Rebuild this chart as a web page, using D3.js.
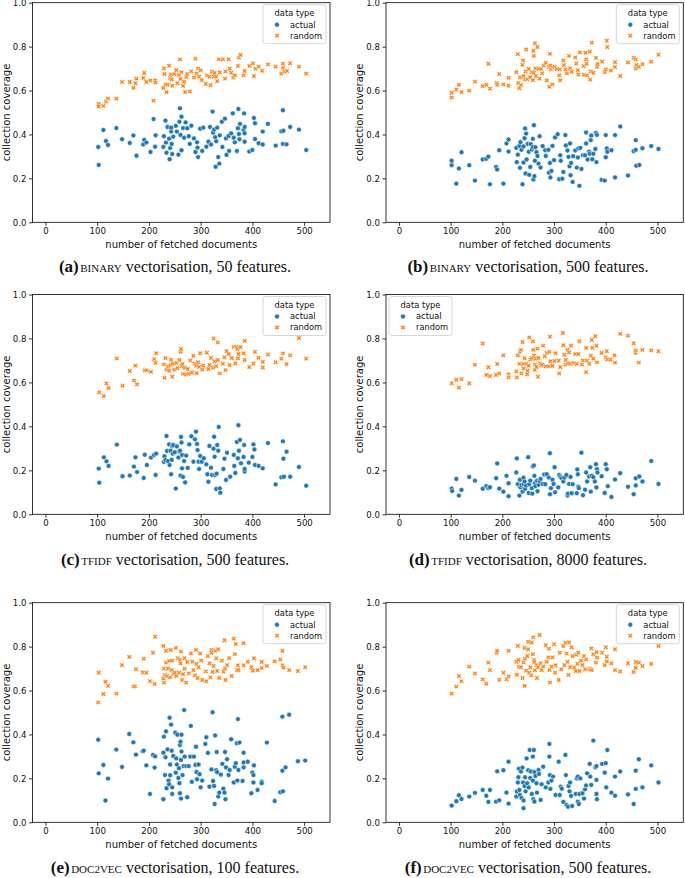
<!DOCTYPE html>
<html><head><meta charset="utf-8">
<script src="https://cdn.jsdelivr.net/npm/d3@7"></script>
<style>body{margin:0;background:#fff}svg{display:block}</style>
</head><body><svg id="c" width="685" height="878"></svg>
<script>
const xTicks=[0,100,200,300,400,500];
const yTicks=[0,0.2,0.4,0.6,0.8,1.0];
const seriesNames=["actual","random"];
const seriesColors=["#1f77b4","#ff7f0e"];
const panelLetters=["(a)","(b)","(c)","(d)","(e)","(f)"];
const panelMethods=["BINARY","BINARY","TFIDF","TFIDF","DOC2VEC","DOC2VEC"];
const panelFeatures=[50,500,500,8000,100,500];
const legendSide=["right","right","right","left","right","right"];

const binary50Actual=[[102,.343],[103,.261],[112,.42],[117,.37],[121,.352],[137,.429],[148,.378],[163,.361],[170,.395],[176,.303],[189,.354],[191,.375],[195,.363],[203,.32],[209,.47],[212,.344],[213,.396],[228,.343],[229,.392],[232,.463],[233,.363],[234,.317],[236,.434],[239,.381],[240,.287],[241,.338],[243,.413],[243,.431],[244,.357],[245,.311],[247,.39],[252,.439],[254,.413],[257,.308],[259,.458],[260,.519],[261,.398],[263,.481],[263,.328],[266,.429],[268,.385],[271,.455],[274,.428],[277,.392],[279,.357],[282,.44],[287,.382],[290,.32],[293,.364],[294,.34],[295,.297],[299,.426],[303,.325],[305,.431],[311,.344],[315,.367],[318,.434],[320,.354],[323,.504],[324,.408],[326,.422],[328,.387],[329,.253],[330,.369],[332,.431],[334,.297],[336,.267],[337,.396],[341,.458],[342,.343],[347,.472],[349,.382],[350,.307],[354,.393],[355,.325],[359,.405],[362,.496],[364,.385],[366,.364],[370,.325],[372,.428],[373,.516],[374,.402],[375,.378],[376,.448],[383,.42],[384,.496],[385,.434],[385,.405],[385,.367],[394,.322],[400,.329],[403,.475],[405,.379],[405,.451],[412,.36],[420,.413],[420,.354],[430,.448],[445,.349],[456,.414],[459,.51],[459,.357],[460,.417],[466,.355],[473,.434],[490,.422],[504,.329]];
const binary50Random=[[103,.539],[103,.527],[112,.53],[117,.549],[121,.563],[137,.563],[148,.639],[163,.639],[170,.612],[174,.633],[176,.654],[189,.657],[191,.68],[195,.639],[203,.646],[209,.554],[212,.646],[213,.636],[228,.612],[229,.701],[230,.675],[232,.628],[234,.593],[236,.627],[239,.713],[241,.657],[243,.674],[244,.651],[245,.622],[249,.675],[253,.693],[255,.633],[258,.671],[260,.742],[261,.653],[263,.684],[266,.621],[268,.64],[270,.593],[272,.662],[274,.675],[279,.596],[282,.687],[287,.659],[290,.745],[292,.678],[295,.7],[297,.663],[300,.692],[302,.648],[310,.63],[312,.669],[317,.663],[319,.625],[322,.686],[325,.663],[327,.68],[330,.663],[332,.643],[335,.742],[337,.683],[343,.742],[347,.654],[348,.687],[354,.742],[356,.7],[359,.681],[363,.659],[366,.669],[372,.712],[374,.75],[377,.762],[383,.669],[385,.689],[394,.712],[401,.724],[403,.666],[406,.7],[412,.709],[419,.69],[430,.719],[445,.709],[456,.677],[459,.722],[459,.703],[462,.686],[467,.689],[473,.724],[490,.709],[504,.677]];

const binary500Actual=[[102,.26],[102,.28],[111,.176],[116,.245],[121,.319],[136,.26],[147,.19],[162,.286],[169,.289],[173,.299],[176,.173],[188,.252],[190,.24],[194,.328],[202,.176],[208,.359],[212,.322],[212,.377],[227,.339],[228,.274],[230,.308],[233,.348],[234,.248],[235,.365],[237,.33],[239,.173],[241,.272],[241,.345],[243,.383],[244,.427],[245,.222],[246,.404],[247,.286],[249,.357],[251,.321],[252,.216],[254,.252],[255,.356],[257,.331],[259,.38],[259,.342],[260,.195],[261,.442],[262,.21],[263,.28],[264,.342],[266,.319],[268,.302],[270,.267],[272,.392],[274,.249],[278,.347],[283,.328],[284,.302],[289,.33],[290,.226],[292,.27],[293,.204],[295,.234],[297,.348],[300,.283],[302,.386],[307,.401],[310,.196],[312,.305],[313,.28],[316,.198],[318,.229],[322,.397],[323,.35],[326,.327],[328,.298],[330,.255],[331,.359],[332,.214],[333,.27],[336,.184],[337,.301],[341,.327],[344,.249],[346,.295],[347,.336],[349,.166],[351,.339],[353,.243],[356,.305],[360,.305],[362,.409],[362,.359],[365,.286],[368,.322],[369,.312],[371,.374],[372,.395],[374,.287],[376,.312],[380,.334],[381,.407],[382,.274],[383,.398],[392,.193],[398,.19],[400,.296],[400,.397],[402,.336],[403,.321],[411,.328],[418,.204],[418,.397],[428,.436],[443,.213],[454,.324],[458,.374],[458,.33],[459,.257],[465,.261],[471,.337],[488,.347],[502,.334]];
const binary500Random=[[102,.59],[102,.568],[111,.605],[116,.626],[121,.593],[136,.6],[147,.64],[162,.62],[169,.626],[173,.722],[176,.609],[189,.634],[190,.626],[194,.675],[202,.628],[212,.658],[212,.622],[227,.684],[230,.766],[231,.634],[233,.611],[234,.66],[236,.625],[239,.717],[240,.737],[241,.666],[244,.65],[245,.687],[246,.787],[248,.652],[251,.698],[254,.661],[257,.684],[259,.647],[260,.781],[261,.681],[261,.758],[263,.815],[264,.701],[265,.666],[268,.798],[270,.699],[272,.654],[275,.699],[277,.678],[280,.714],[284,.726],[286,.646],[290,.708],[291,.617],[292,.767],[293,.714],[294,.696],[297,.628],[298,.704],[301,.708],[305,.698],[310,.669],[311,.696],[312,.647],[318,.737],[319,.716],[322,.696],[325,.678],[329,.758],[331,.701],[334,.685],[341,.751],[343,.723],[346,.693],[347,.673],[350,.774],[357,.711],[358,.672],[361,.772],[362,.742],[363,.722],[364,.669],[369,.777],[370,.65],[371,.687],[373,.818],[376,.681],[381,.749],[383,.708],[384,.72],[393,.731],[398,.684],[400,.696],[402,.827],[403,.798],[410,.691],[418,.729],[418,.707],[428,.666],[443,.728],[454,.749],[458,.742],[458,.701],[459,.716],[464,.708],[471,.72],[488,.731],[502,.763]];

const tfidf500Actual=[[103,.208],[104,.144],[113,.259],[118,.241],[122,.22],[138,.317],[149,.173],[163,.176],[171,.217],[174,.259],[177,.192],[190,.165],[192,.271],[196,.224],[204,.258],[210,.27],[213,.179],[214,.276],[229,.238],[230,.264],[232,.247],[234,.356],[235,.288],[237,.242],[239,.318],[240,.224],[242,.289],[243,.182],[244,.248],[245,.311],[246,.276],[247,.315],[250,.282],[252,.117],[254,.309],[257,.258],[259,.285],[260,.289],[261,.176],[262,.352],[263,.327],[264,.27],[264,.209],[266,.17],[268,.242],[270,.145],[272,.267],[275,.211],[278,.318],[282,.355],[286,.239],[289,.341],[291,.376],[293,.32],[294,.292],[296,.239],[297,.206],[299,.265],[302,.239],[306,.255],[311,.227],[313,.182],[315,.148],[317,.311],[320,.212],[322,.179],[325,.298],[326,.353],[327,.262],[328,.179],[330,.115],[331,.185],[332,.315],[334,.289],[335,.397],[337,.118],[338,.098],[344,.206],[346,.253],[349,.156],[351,.28],[357,.171],[364,.27],[365,.22],[367,.188],[370,.329],[372,.255],[373,.405],[374,.289],[376,.338],[378,.232],[383,.261],[384,.315],[385,.194],[385,.206],[393,.235],[400,.261],[402,.318],[404,.295],[405,.224],[412,.22],[420,.209],[430,.324],[445,.136],[456,.168],[459,.332],[460,.253],[461,.171],[466,.285],[473,.171],[490,.215],[504,.13]];
const tfidf500Random=[[104,.555],[113,.538],[118,.595],[122,.574],[138,.709],[149,.585],[163,.652],[171,.609],[174,.676],[177,.591],[192,.655],[196,.655],[204,.648],[210,.706],[213,.689],[214,.733],[229,.682],[230,.621],[232,.711],[234,.658],[237,.673],[239,.653],[242,.679],[243,.703],[245,.626],[246,.685],[249,.658],[253,.688],[255,.665],[259,.702],[261,.739],[262,.752],[263,.674],[265,.683],[266,.639],[269,.667],[272,.636],[275,.661],[277,.639],[280,.7],[283,.645],[286,.721],[288,.685],[291,.676],[292,.642],[295,.692],[297,.671],[299,.733],[303,.658],[305,.677],[312,.735],[315,.661],[317,.679],[320,.711],[324,.667],[325,.8],[327,.695],[330,.674],[333,.782],[333,.702],[337,.641],[343,.685],[346,.714],[348,.656],[350,.742],[354,.729],[356,.679],[360,.711],[364,.761],[367,.686],[369,.762],[371,.752],[372,.709],[373,.729],[377,.761],[383,.732],[385,.789],[385,.702],[394,.67],[402,.686],[405,.739],[412,.712],[420,.694],[420,.668],[430,.727],[445,.692],[456,.708],[459,.732],[466,.683],[473,.723],[490,.802],[504,.708]];

const tfidf8000Actual=[[102,.117],[103,.106],[111,.161],[116,.085],[121,.111],[136,.17],[147,.153],[162,.116],[169,.128],[173,.119],[176,.123],[188,.164],[190,.231],[194,.117],[202,.103],[208,.175],[212,.082],[212,.141],[227,.19],[228,.254],[230,.137],[233,.085],[234,.157],[235,.123],[237,.134],[239,.103],[241,.166],[241,.137],[243,.149],[244,.116],[246,.131],[250,.26],[251,.097],[252,.137],[254,.153],[257,.119],[258,.094],[259,.217],[261,.222],[262,.175],[263,.141],[264,.128],[267,.153],[268,.105],[270,.134],[272,.15],[274,.161],[278,.138],[281,.181],[283,.137],[286,.182],[290,.167],[292,.278],[292,.091],[294,.119],[297,.157],[299,.138],[301,.214],[302,.1],[308,.122],[310,.179],[312,.17],[315,.164],[318,.149],[320,.167],[324,.179],[326,.085],[327,.094],[329,.138],[332,.17],[334,.096],[336,.137],[344,.096],[345,.204],[346,.182],[347,.126],[348,.119],[353,.28],[356,.087],[360,.112],[362,.19],[364,.149],[368,.172],[370,.214],[371,.103],[373,.176],[376,.169],[379,.149],[381,.228],[382,.122],[383,.205],[384,.19],[392,.173],[398,.097],[400,.228],[402,.205],[404,.128],[411,.079],[418,.158],[428,.187],[443,.125],[454,.091],[458,.164],[458,.131],[465,.172],[471,.149],[488,.242],[502,.138]];
const tfidf8000Random=[[102,.596],[111,.612],[116,.576],[121,.615],[136,.596],[147,.681],[162,.777],[169,.634],[173,.669],[176,.629],[188,.634],[190,.684],[194,.641],[202,.723],[212,.637],[212,.623],[227,.65],[228,.623],[230,.723],[233,.685],[234,.739],[236,.748],[237,.641],[239,.784],[240,.684],[241,.663],[243,.71],[246,.684],[248,.637],[249,.653],[251,.676],[252,.805],[254,.704],[257,.71],[259,.787],[260,.748],[261,.723],[263,.681],[263,.657],[264,.708],[266,.67],[268,.754],[269,.626],[270,.711],[273,.687],[275,.676],[277,.681],[279,.767],[282,.719],[284,.673],[286,.734],[290,.673],[291,.739],[292,.808],[293,.696],[297,.675],[301,.698],[303,.733],[309,.699],[310,.641],[312,.67],[317,.825],[318,.769],[320,.726],[322,.681],[323,.702],[326,.748],[327,.687],[329,.736],[331,.685],[333,.767],[338,.688],[341,.729],[344,.684],[347,.729],[349,.787],[354,.681],[356,.7],[362,.647],[362,.757],[364,.699],[368,.685],[371,.722],[373,.793],[374,.757],[376,.708],[380,.81],[382,.767],[383,.691],[392,.734],[400,.714],[402,.742],[403,.704],[409,.704],[417,.723],[418,.69],[428,.821],[443,.813],[454,.778],[458,.734],[458,.745],[464,.69],[471,.748],[488,.746],[502,.742]];

const doc2vec100Actual=[[102,.376],[103,.223],[112,.261],[116,.099],[121,.199],[137,.331],[148,.252],[162,.402],[170,.364],[175,.308],[188,.323],[190,.326],[195,.259],[202,.129],[208,.307],[211,.249],[212,.3],[228,.105],[228,.317],[229,.39],[231,.215],[232,.296],[233,.414],[234,.155],[236,.332],[238,.19],[239,.173],[240,.476],[241,.263],[241,.214],[243,.445],[244,.326],[245,.159],[245,.129],[247,.302],[251,.408],[252,.226],[253,.291],[254,.263],[255,.399],[257,.202],[258,.246],[259,.178],[260,.352],[260,.132],[261,.367],[262,.284],[262,.108],[263,.399],[263,.322],[265,.215],[267,.256],[268,.511],[269,.299],[272,.256],[274,.114],[277,.256],[280,.299],[281,.439],[283,.184],[287,.299],[290,.261],[291,.344],[292,.229],[293,.196],[296,.263],[298,.219],[300,.159],[303,.19],[309,.357],[311,.387],[314,.316],[317,.162],[321,.241],[323,.501],[324,.188],[326,.165],[327,.083],[328,.395],[330,.237],[331,.32],[332,.228],[334,.117],[336,.135],[339,.217],[342,.266],[344,.153],[346,.135],[347,.32],[348,.105],[349,.25],[351,.287],[354,.215],[356,.238],[359,.378],[364,.181],[366,.253],[368,.269],[370,.36],[371,.19],[372,.47],[373,.238],[375,.363],[381,.188],[383,.272],[383,.317],[383,.25],[391,.276],[398,.132],[400,.226],[402,.215],[403,.259],[402,.181],[410,.147],[418,.185],[418,.178],[428,.363],[443,.097],[454,.137],[458,.481],[458,.235],[459,.141],[464,.25],[471,.49],[488,.278],[502,.281]];
const doc2vec100Random=[[102,.546],[103,.681],[112,.584],[116,.64],[121,.621],[137,.586],[148,.716],[162,.753],[170,.619],[173,.619],[175,.697],[188,.683],[190,.745],[195,.681],[202,.643],[208,.772],[211,.63],[212,.845],[228,.803],[228,.655],[229,.636],[229,.7],[231,.671],[233,.781],[233,.727],[235,.666],[237,.7],[239,.734],[241,.66],[242,.785],[244,.693],[245,.736],[247,.675],[250,.681],[252,.794],[253,.666],[256,.747],[258,.681],[260,.739],[261,.724],[262,.777],[264,.648],[266,.675],[269,.747],[269,.7],[272,.636],[274,.73],[277,.678],[281,.769],[284,.731],[286,.693],[289,.669],[291,.785],[292,.721],[294,.657],[296,.706],[299,.769],[301,.737],[303,.648],[310,.687],[311,.642],[314,.757],[317,.724],[319,.66],[321,.785],[321,.772],[323,.684],[325,.712],[328,.781],[330,.747],[332,.689],[334,.788],[336,.657],[341,.736],[344,.686],[346,.829],[347,.701],[348,.648],[351,.716],[355,.748],[360,.666],[364,.836],[366,.766],[368,.812],[370,.693],[372,.715],[373,.693],[383,.715],[383,.815],[391,.731],[398,.706],[401,.69],[403,.747],[410,.693],[418,.73],[418,.703],[428,.712],[443,.733],[454,.741],[458,.781],[458,.715],[460,.704],[471,.693],[488,.689],[502,.706]];

const doc2vec500Actual=[[102,.076],[111,.096],[116,.123],[121,.106],[136,.117],[147,.134],[162,.147],[169,.121],[173,.093],[176,.147],[188,.094],[190,.232],[194,.1],[202,.237],[208,.135],[212,.085],[212,.276],[227,.117],[228,.14],[230,.181],[231,.205],[232,.244],[233,.147],[234,.124],[236,.231],[237,.111],[239,.249],[240,.181],[241,.064],[241,.099],[243,.165],[244,.205],[245,.141],[247,.291],[248,.178],[250,.237],[251,.159],[253,.329],[254,.202],[255,.231],[257,.129],[259,.299],[259,.19],[260,.105],[261,.329],[262,.229],[262,.094],[264,.211],[266,.178],[267,.135],[270,.238],[271,.22],[274,.102],[276,.173],[279,.253],[284,.159],[289,.181],[291,.357],[291,.299],[292,.215],[293,.152],[295,.19],[298,.208],[303,.124],[309,.276],[311,.124],[313,.162],[315,.153],[318,.093],[322,.307],[323,.215],[324,.079],[327,.071],[328,.165],[330,.141],[331,.181],[333,.12],[335,.074],[342,.129],[344,.2],[346,.094],[346,.208],[348,.083],[349,.129],[351,.2],[355,.132],[358,.108],[360,.15],[362,.168],[364,.223],[369,.266],[370,.208],[372,.17],[376,.372],[380,.25],[382,.129],[382,.193],[382,.256],[383,.105],[393,.266],[398,.226],[400,.269],[401,.159],[403,.329],[411,.135],[418,.208],[418,.121],[428,.231],[443,.127],[454,.083],[458,.235],[458,.152],[464,.287],[471,.159],[488,.259],[502,.181]];
const doc2vec500Random=[[102,.586],[111,.618],[116,.666],[121,.642],[136,.709],[147,.678],[162,.651],[169,.631],[173,.727],[176,.693],[189,.772],[190,.781],[194,.649],[202,.681],[208,.651],[212,.781],[212,.664],[227,.731],[228,.672],[230,.803],[231,.739],[232,.709],[236,.706],[239,.657],[241,.728],[243,.621],[243,.794],[244,.745],[246,.69],[248,.757],[250,.822],[250,.788],[252,.681],[254,.706],[256,.669],[257,.818],[259,.766],[260,.842],[261,.739],[262,.73],[263,.693],[266,.716],[267,.657],[269,.706],[272,.853],[274,.724],[276,.693],[279,.709],[284,.807],[286,.731],[289,.751],[290,.791],[291,.693],[292,.636],[295,.709],[297,.751],[300,.811],[302,.681],[303,.715],[309,.648],[311,.772],[314,.697],[318,.803],[320,.716],[322,.818],[324,.769],[326,.731],[328,.671],[329,.819],[331,.706],[334,.797],[336,.757],[339,.704],[342,.689],[343,.763],[345,.722],[347,.772],[349,.689],[352,.736],[355,.716],[358,.757],[360,.697],[362,.742],[368,.701],[370,.697],[372,.792],[373,.693],[376,.765],[381,.727],[382,.775],[383,.75],[393,.772],[398,.716],[400,.797],[402,.754],[402,.733],[411,.724],[418,.693],[418,.788],[428,.687],[443,.724],[454,.684],[458,.73],[458,.703],[464,.727],[471,.712],[488,.721],[502,.803]];

const panelData=[
  [binary50Actual,binary50Random],[binary500Actual,binary500Random],
  [tfidf500Actual,tfidf500Random],[tfidf8000Actual,tfidf8000Random],
  [doc2vec100Actual,doc2vec100Random],[doc2vec500Actual,doc2vec500Random]];

// ---- layout ----
const colX=[[32.5,330],[386,683.3]];
const rowY=[[2.7,222.3],[294.5,514.3],[602.7,822.3]];
const captionY=[271.5,564.5,872.5];
const captionX=[175,528];
const sans="'DejaVu Sans', sans-serif";
const serif="'Liberation Serif','Times New Roman', serif";

const svg=d3.select("#c");

function xMarker(L,t){
  const p=[[-t,-L],[t,-L],[t,-t],[L,-t],[L,t],[t,t],[t,L],[-t,L],[-t,t],[-L,t],[-L,-t],[-t,-t]];
  return "M"+p.map(q=>q.join(",")).join("L")+"Z";
}
const xPath=xMarker(2.55,0.85);

function drawMarker(g,type,cx,cy){
  if(type===0){
    g.append("circle").attr("cx",cx).attr("cy",cy).attr("r",2.45)
      .attr("fill",seriesColors[0]).attr("stroke","#fff").attr("stroke-width",0.5);
  } else {
    g.append("path").attr("d",xPath).attr("transform",`translate(${cx},${cy}) rotate(45)`)
      .attr("fill",seriesColors[1]).attr("stroke","#fff").attr("stroke-width",0.5);
  }
}

panelData.forEach((series,i)=>{
  const col=i%2,row=Math.floor(i/2);
  const [x0,x1]=colX[col],[y0,y1]=rowY[row];
  const x=d3.scaleLinear().domain([-25,550]).range([x0,x1]);
  const y=d3.scaleLinear().domain([0,1]).range([y1,y0]);
  const g=svg.append("g");

  // points
  const pts=g.append("g");
  series.forEach((data,s)=>{
    data.forEach(d=>drawMarker(pts,s,x(d[0]),y(d[1])));
  });

  // axes
  const xa=g.append("g").attr("transform",`translate(0,${y1})`)
    .call(d3.axisBottom(x).tickValues(xTicks).tickFormat(d3.format("d")).tickSize(3.5).tickPadding(2.5));
  const ya=g.append("g").attr("transform",`translate(${x0},0)`)
    .call(d3.axisLeft(y).tickValues(yTicks).tickFormat(d3.format(".1f")).tickSize(3.5).tickPadding(2.5));
  [xa,ya].forEach(a=>{
    a.select(".domain").remove();
    a.selectAll("line").attr("stroke","#000").attr("stroke-width",0.8);
    a.selectAll("text").attr("font-family",sans).attr("font-size",8.6).attr("fill","#111");
  });
  g.append("rect").attr("x",x0).attr("y",y0).attr("width",x1-x0).attr("height",y1-y0)
    .attr("fill","none").attr("stroke","#000").attr("stroke-width",0.8);

  // labels
  g.append("text").attr("x",(x0+x1)/2).attr("y",y1+22).attr("dy","0.35em")
    .attr("text-anchor","middle").attr("font-family",sans).attr("font-size",10).attr("fill","#111")
    .text("number of fetched documents");
  g.append("text").attr("transform",`translate(${x0-26.5},${(y0+y1)/2}) rotate(-90)`).attr("dy","0.35em")
    .attr("text-anchor","middle").attr("font-family",sans).attr("font-size",10).attr("fill","#111")
    .text("collection coverage");

  // legend
  const lw=63,lh=39;
  const lx=legendSide[i]==="right"? x1-4-lw : x0+3;
  const ly=y0+2;
  const lg=g.append("g").attr("transform",`translate(${lx},${ly})`);
  lg.append("rect").attr("width",lw).attr("height",lh).attr("rx",2.5)
    .attr("fill","#fff").attr("fill-opacity",0.85).attr("stroke","#ccc").attr("stroke-width",0.8);
  lg.append("text").attr("x",lw/2).attr("y",8.5).attr("dy","0.35em").attr("text-anchor","middle")
    .attr("font-family",sans).attr("font-size",8.3).attr("fill","#111").text("data type");
  seriesNames.forEach((n,s)=>{
    const yy=20+s*11;
    drawMarker(lg,s,14,yy);
    lg.append("text").attr("x",27).attr("y",yy).attr("dy","0.35em")
      .attr("font-family",sans).attr("font-size",8.3).attr("fill","#111").text(n);
  });

  // caption
  const cap=svg.append("text").attr("x",captionX[col]).attr("y",captionY[row])
    .attr("text-anchor","middle").attr("font-family",serif).attr("fill","#111");
  cap.append("tspan").attr("font-weight","bold").attr("font-size",17).text(panelLetters[i]);
  cap.append("tspan").attr("dx",1.5).attr("font-size",11).text(panelMethods[i]);
  cap.append("tspan").attr("font-size",16).text(` vectorisation, ${panelFeatures[i]} features.`);
});
</script></body></html>
